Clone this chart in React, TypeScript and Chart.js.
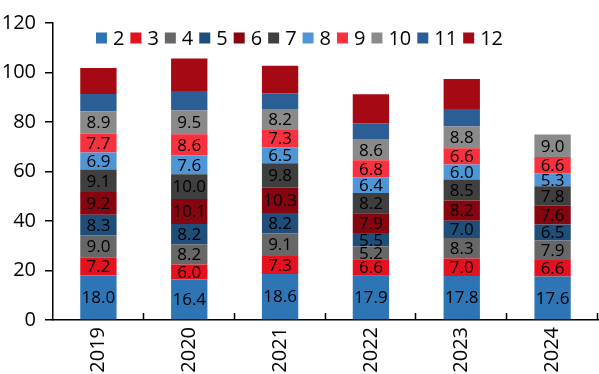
import React, { useEffect, useRef } from 'react';
import { Chart, registerables } from 'chart.js';

Chart.register(...registerables);

// Years on the category axis
const years = ['2019', '2020', '2021', '2022', '2023', '2024'];
// Month series, stacked bottom to top
const months = ['2', '3', '4', '5', '6', '7', '8', '9', '10', '11', '12'];

const m2 = [18.0, 16.4, 18.6, 17.9, 17.8, 17.6];
const m3 = [7.2, 6.0, 7.3, 6.6, 7.0, 6.6];
const m4 = [9.0, 8.2, 9.1, 5.2, 8.3, 7.9];
const m5 = [8.3, 8.2, 8.2, 5.5, 7.0, 6.5];
const m6 = [9.2, 10.1, 10.3, 7.9, 8.2, 7.6];
const m7 = [9.1, 10.0, 9.8, 8.2, 8.5, 7.8];
const m8 = [6.9, 7.6, 6.5, 6.4, 6.0, 5.3];
const m9 = [7.7, 8.6, 7.3, 6.8, 6.6, 6.6];
const m10 = [8.9, 9.5, 8.2, 8.6, 8.8, 9.0];
const m11 = [7.0, 7.9, 6.3, 6.4, 7.1, null];
const m12 = [10.5, 13.2, 11.1, 11.7, 12.1, null];

const seriesValues = [m2, m3, m4, m5, m6, m7, m8, m9, m10, m11, m12];

const seriesColors = [
  '#2E75B6', '#E3121E', '#676767', '#1F4E7A', '#870511', '#3F3F3F',
  '#4E96D6', '#F8313F', '#8A8A8A', '#2A5E95', '#A50A14',
];

// Only months 2..10 carry value labels
const labelledSeries = 9;

// Y-axis tick settings
const yMin = 0;
const yMax = 120;
const yStep = 20;

const FONT = '"Open Sans", "DejaVu Sans", sans-serif';

const valueLabels = {
  id: 'valueLabels',
  afterDatasetsDraw(chart: any) {
    const { ctx } = chart;
    ctx.save();
    ctx.font = `17px ${FONT}`;
    ctx.fillStyle = '#000';
    ctx.textAlign = 'center';
    ctx.textBaseline = 'middle';
    for (let d = 0; d < labelledSeries; d++) {
      const meta = chart.getDatasetMeta(d);
      const data = chart.data.datasets[d].data;
      meta.data.forEach((el: any, i: number) => {
        const v = data[i];
        if (v == null) return;
        const y = (el.y + el.base) / 2;
        ctx.fillText(Number(v).toFixed(1), el.x, y + 1);
      });
    }
    ctx.restore();
  },
};

// Small upward tick marks between categories on the x axis
const innerTicks = {
  id: 'innerTicks',
  afterDraw(chart: any) {
    const xs = chart.scales.x;
    const { ctx } = chart;
    const n = years.length;
    ctx.save();
    ctx.strokeStyle = '#000';
    ctx.lineWidth = 1.5;
    for (let k = 1; k <= n; k++) {
      const x = Math.round(xs.left + (k * (xs.right - xs.left)) / n) - 0.5;
      ctx.beginPath();
      ctx.moveTo(x, xs.top);
      ctx.lineTo(x, xs.top - 7);
      ctx.stroke();
    }
    ctx.restore();
  },
};

// Legend row drawn across the top of the plot area
const topLegend = {
  id: 'topLegend',
  afterDraw(chart: any) {
    const { ctx } = chart;
    const box = 11;
    const gap = 6;
    ctx.save();
    ctx.font = `20px ${FONT}`;
    const widths = months.map((m) => ctx.measureText(m).width);
    const total = widths.reduce((a, w) => a + box + gap + w, 0) + gap * (months.length - 1);
    let x = chart.width / 2 - total / 2;
    const cy = 38;
    ctx.textBaseline = 'middle';
    ctx.textAlign = 'left';
    months.forEach((m, i) => {
      ctx.fillStyle = seriesColors[i];
      ctx.fillRect(x, cy - box / 2, box, box);
      x += box + gap;
      ctx.fillStyle = '#000';
      ctx.fillText(m, x, cy + 1);
      x += widths[i] + gap;
    });
    ctx.restore();
  },
};

export default function App() {
  const canvasRef = useRef<HTMLCanvasElement | null>(null);

  useEffect(() => {
    document.body.style.margin = '0';
    const canvas = canvasRef.current;
    if (!canvas) return;

    const chart = new Chart(canvas, {
      type: 'bar',
      data: {
        labels: years,
        datasets: seriesValues.map((vals, i) => ({
          label: months[i],
          data: vals,
          backgroundColor: seriesColors[i],
          borderWidth: 0,
          categoryPercentage: 1,
          barPercentage: 0.4,
        })),
      },
      options: {
        animation: false,
        responsive: true,
        maintainAspectRatio: false,
        layout: { padding: { top: 23, right: 1, left: 0, bottom: 0 } },
        plugins: {
          legend: { display: false },
          tooltip: { enabled: false },
        },
        scales: {
          x: {
            stacked: true,
            grid: { display: false, drawTicks: false },
            border: { display: true, color: '#000', width: 1.5 },
            ticks: {
              color: '#000',
              font: { family: FONT, size: 20 },
              minRotation: 90,
              maxRotation: 90,
              padding: 7,
            },
            afterFit: (s: any) => {
              s.height = 54;
            },
          },
          y: {
            stacked: true,
            min: yMin,
            max: yMax,
            grid: {
              display: true,
              drawOnChartArea: false,
              drawTicks: true,
              tickLength: 8,
              color: '#000',
              lineWidth: 1.5,
            },
            border: { display: true, color: '#000', width: 1.5 },
            ticks: {
              stepSize: yStep,
              color: '#000',
              font: { family: FONT, size: 20 },
              padding: 9,
            },
            afterFit: (s: any) => {
              s.width = 53;
            },
          },
        },
      },
      plugins: [valueLabels, innerTicks, topLegend],
    });

    return () => chart.destroy();
  }, []);

  return (
    <div style={{ position: 'absolute', left: 0, top: 0, width: 599, height: 374 }}>
      <canvas ref={canvasRef} />
    </div>
  );
}
